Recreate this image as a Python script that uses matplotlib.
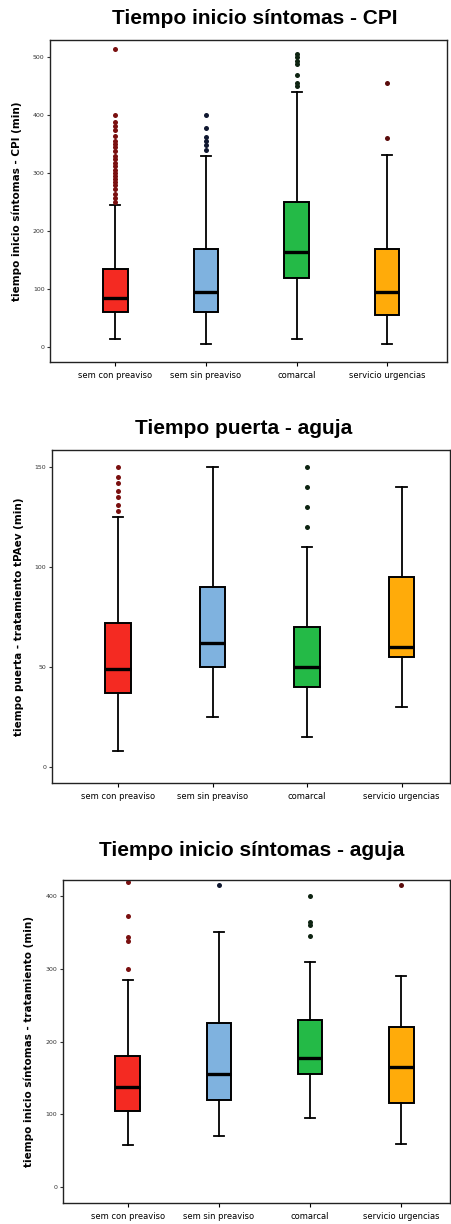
import matplotlib
matplotlib.use("Agg")
import matplotlib.pyplot as plt

# --- data -------------------------------------------------------------------
groups = ["sem con preaviso", "sem sin preaviso", "comarcal", "servicio urgencias"]
colors = ["#F42A22", "#7FB2DF", "#24BA47", "#FFAB0A"]
flier_colors = ["#7A1010", "#101830", "#0E2412", "#5A0C0C"]

# panel 1: Tiempo inicio síntomas - CPI
cpi_lo = [15, 5, 15, 5]
cpi_q1 = [60, 60, 120, 55]
cpi_med = [85, 95, 165, 95]
cpi_q3 = [135, 170, 250, 170]
cpi_hi = [245, 330, 440, 332]
cpi_out = [
    [250, 258, 265, 272, 280, 285, 290, 295, 300, 305, 312, 318, 325, 330, 338, 345, 350,
     355, 365, 375, 382, 388, 400, 515],
    [340, 348, 355, 362, 378, 400],
    [450, 456, 470, 488, 494, 500, 506],
    [360, 455],
]

# panel 2: Tiempo puerta - aguja
pa_lo = [8, 25, 15, 30]
pa_q1 = [37, 50, 40, 55]
pa_med = [49, 62, 50, 60]
pa_q3 = [72, 90, 70, 95]
pa_hi = [125, 150, 110, 140]
pa_out = [
    [128, 131, 135, 138, 142, 145, 150],
    [],
    [120, 130, 140, 150],
    [],
]

# panel 3: Tiempo inicio síntomas - aguja
sa_lo = [58, 70, 95, 60]
sa_q1 = [105, 120, 155, 115]
sa_med = [138, 155, 178, 165]
sa_q3 = [180, 225, 230, 220]
sa_hi = [285, 350, 310, 290]
sa_out = [
    [300, 338, 344, 372, 420],
    [415],
    [345, 360, 365, 400],
    [415],
]

panels = [
    dict(title="Tiempo inicio síntomas - CPI", ylabel="tiempo inicio síntomas - CPI (min)",
         stats=(cpi_lo, cpi_q1, cpi_med, cpi_q3, cpi_hi, cpi_out),
         rect=[0.111, 0.704, 0.878, 0.263], xlim=(0.28, 4.66), ylim=(-26, 529),
         yticks=[0, 100, 200, 300, 400, 500], tpos=(0.564, 0.985)),
    dict(title="Tiempo puerta - aguja", ylabel="tiempo puerta - tratamiento tPAev (min)",
         stats=(pa_lo, pa_q1, pa_med, pa_q3, pa_hi, pa_out),
         rect=[0.115, 0.360, 0.880, 0.272], xlim=(0.30, 4.51), ylim=(-8, 158.5),
         yticks=[0, 50, 100, 150], tpos=(0.54, 0.650)),
    dict(title="Tiempo inicio síntomas - aguja", ylabel="tiempo inicio síntomas - tratamiento (min)",
         stats=(sa_lo, sa_q1, sa_med, sa_q3, sa_hi, sa_out),
         rect=[0.139, 0.017, 0.856, 0.264], xlim=(0.29, 4.53), ylim=(-22, 422),
         yticks=[0, 100, 200, 300, 400], tpos=(0.557, 0.3055)),
]

plt.rcParams.update({"font.family": ["DejaVu Sans"]})
fig = plt.figure(figsize=(4.52, 12.24), dpi=100)

for p in panels:
    ax = fig.add_axes(p["rect"])
    lo, q1, med, q3, hi, out = p["stats"]
    bxp_stats = [dict(whislo=lo[i], q1=q1[i], med=med[i], q3=q3[i], whishi=hi[i],
                      fliers=out[i], label=groups[i]) for i in range(len(groups))]
    res = ax.bxp(bxp_stats, positions=[1, 2, 3, 4], widths=0.27, patch_artist=True,
                 boxprops=dict(linewidth=1.4, edgecolor="black"),
                 medianprops=dict(color="black", linewidth=2.4),
                 whiskerprops=dict(color="black", linewidth=1.3),
                 capprops=dict(color="black", linewidth=1.3),
                 capwidths=0.11,
                 flierprops=dict(marker="o", markersize=3.6, markeredgewidth=0))
    for b, c in zip(res["boxes"], colors):
        b.set_facecolor(c)
    for f, c in zip(res["fliers"], flier_colors):
        f.set_markerfacecolor(c)
        f.set_markeredgecolor(c)

    ax.set_xlim(*p["xlim"])
    ax.set_ylim(*p["ylim"])
    ax.set_yticks(p["yticks"])
    ax.tick_params(axis="y", labelsize=4.5, length=2.5, width=0.8, pad=1.5, colors="#333333")
    ax.tick_params(axis="x", labelsize=6, length=3, width=0.8, pad=3)
    ax.set_ylabel(p["ylabel"], fontsize=7.5, fontweight="bold", labelpad=8)
    for s in ax.spines.values():
        s.set_linewidth(1.0)
        s.set_color("#222222")
    fig.text(p["tpos"][0], p["tpos"][1], p["title"], ha="center", va="center",
             fontsize=15, fontweight="bold", family=["Liberation Sans", "DejaVu Sans"])

fig.savefig("out.png", dpi=100)
